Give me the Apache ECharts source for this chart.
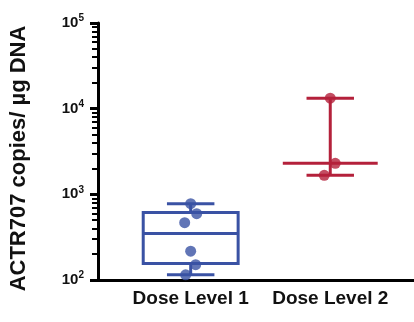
<!DOCTYPE html>
<html><head><meta charset="utf-8">
<script src="https://cdn.jsdelivr.net/npm/echarts@6/dist/echarts.min.js"></script>
<style>html,body{margin:0;padding:0;background:#fff}#c{width:414px;height:322px}</style>
</head><body><div id="c"></div>
<script>
var categories = ['Dose Level 1', 'Dose Level 2'];
var groupPos = [1, 2];
// individual points [x position (with jitter), value]
var dose1Points = [[1.0, 778], [1.043, 594], [0.957, 467], [1.0, 217], [1.036, 151], [0.964, 115]];
var dose2Points = [[2.0, 13270], [2.036, 2305], [1.957, 1668]];
// box stats: [min, q1, median, q3, max]
var dose1Box = [115, 156, 350, 615, 778];
// range stats: [min, median, max]
var dose2Range = [1668, 2305, 13270];
var yTicks = [100, 1000, 10000, 100000];
var yMinorTicks = [200,300,400,500,600,700,800,900,2000,3000,4000,5000,6000,7000,8000,9000,20000,30000,40000,50000,60000,70000,80000,90000];

var blue = '#3a52a4', red = '#b4213b';
var chart = echarts.init(document.getElementById('c'));
function boxRender(params, api) {
  var x = api.value(0), mn = api.value(1), q1 = api.value(2), md = api.value(3), q3 = api.value(4), mx = api.value(5);
  var c = function (xx, v) { return api.coord([xx, v]); };
  var hw = 0.34, cw = 0.17;
  var st = {stroke: blue, lineWidth: 3, fill: null};
  var pTop = c(x - hw, q3), pBot = c(x + hw, q1);
  var ch = [
    {type: 'rect', shape: {x: pTop[0], y: pTop[1], width: pBot[0] - pTop[0], height: pBot[1] - pTop[1]}, style: st},
    {type: 'line', shape: {x1: c(x - hw, md)[0], y1: c(x, md)[1], x2: c(x + hw, md)[0], y2: c(x, md)[1]}, style: st},
    {type: 'line', shape: {x1: c(x, q3)[0], y1: c(x, q3)[1], x2: c(x, mx)[0], y2: c(x, mx)[1]}, style: st},
    {type: 'line', shape: {x1: c(x, q1)[0], y1: c(x, q1)[1], x2: c(x, mn)[0], y2: c(x, mn)[1]}, style: st},
    {type: 'line', shape: {x1: c(x - cw, mx)[0], y1: c(x, mx)[1], x2: c(x + cw, mx)[0], y2: c(x, mx)[1]}, style: st},
    {type: 'line', shape: {x1: c(x - cw, mn)[0], y1: c(x, mn)[1], x2: c(x + cw, mn)[0], y2: c(x, mn)[1]}, style: st}
  ];
  return {type: 'group', children: ch};
}
function rangeRender(params, api) {
  var x = api.value(0), mn = api.value(1), md = api.value(2), mx = api.value(3);
  var c = function (xx, v) { return api.coord([xx, v]); };
  var hw = 0.34, cw = 0.17;
  var st = {stroke: red, lineWidth: 3, fill: null};
  return {type: 'group', children: [
    {type: 'line', shape: {x1: c(x, mn)[0], y1: c(x, mn)[1], x2: c(x, mx)[0], y2: c(x, mx)[1]}, style: st},
    {type: 'line', shape: {x1: c(x - hw, md)[0], y1: c(x, md)[1], x2: c(x + hw, md)[0], y2: c(x, md)[1]}, style: st},
    {type: 'line', shape: {x1: c(x - cw, mx)[0], y1: c(x, mx)[1], x2: c(x + cw, mx)[0], y2: c(x, mx)[1]}, style: st},
    {type: 'line', shape: {x1: c(x - cw, mn)[0], y1: c(x, mn)[1], x2: c(x + cw, mn)[0], y2: c(x, mn)[1]}, style: st}
  ]};
}
chart.setOption({
  animation: false,
  grid: {left: 97, right: 0, top: 23, bottom: 42},
  xAxis: {
    type: 'value', min: 0.336, max: 2.6,
    axisLine: {show: true, onZero: false, lineStyle: {color: '#000', width: 3}},
    axisTick: {show: false},
    splitLine: {show: false},
    axisLabel: {
      customValues: groupPos, margin: 9,
      formatter: function (v) { return categories[Math.round(v) - 1]; },
      color: '#111', fontFamily: 'Liberation Sans, Arial', fontWeight: 'bold', fontSize: 19
    }
  },
  yAxis: [{
    type: 'log', logBase: 10, min: 100, max: 100000,
    name: 'ACTR707 copies/ µg DNA', nameLocation: 'middle', nameGap: 68,
    nameTextStyle: {color: '#111', fontFamily: 'Liberation Sans, Arial', fontWeight: 'bold', fontSize: 22, padding: [0, 14, 0, 0]},
    axisLine: {show: true, lineStyle: {color: '#000', width: 3}},
    axisTick: {show: true, customValues: yTicks, length: 8, lineStyle: {color: '#000', width: 3}},
    splitLine: {show: false},
    axisLabel: {
      customValues: yTicks, margin: 14,
      formatter: function (v) { var e = Math.round(Math.log10(v)); return '{b|10}{s|' + e + '}'; },
      rich: {
        b: {fontFamily: 'Liberation Sans, Arial', fontSize: 15, fontWeight: 'bold', color: '#111'},
        s: {fontFamily: 'Liberation Sans, Arial', fontSize: 10, fontWeight: 'bold', color: '#111', verticalAlign: 'top', padding: [0, 0, 9, 0]}
      }
    }
  }, {
    type: 'log', logBase: 10, min: 100, max: 100000, position: 'left',
    axisLine: {show: false},
    axisTick: {show: true, customValues: yMinorTicks, length: 6, lineStyle: {color: '#000', width: 2}},
    axisLabel: {show: false},
    splitLine: {show: false}
  }],
  series: [
    {type: 'custom', renderItem: boxRender, data: [[groupPos[0]].concat(dose1Box)], z: 2, clip: false},
    {type: 'custom', renderItem: rangeRender, data: [[groupPos[1]].concat(dose2Range)], z: 2, clip: false},
    {type: 'scatter', data: dose1Points, symbolSize: 11, itemStyle: {color: blue}, z: 3, clip: false},
    {type: 'scatter', data: dose2Points, symbolSize: 11, itemStyle: {color: red}, z: 3, clip: false}
  ]
});
</script></body></html>
